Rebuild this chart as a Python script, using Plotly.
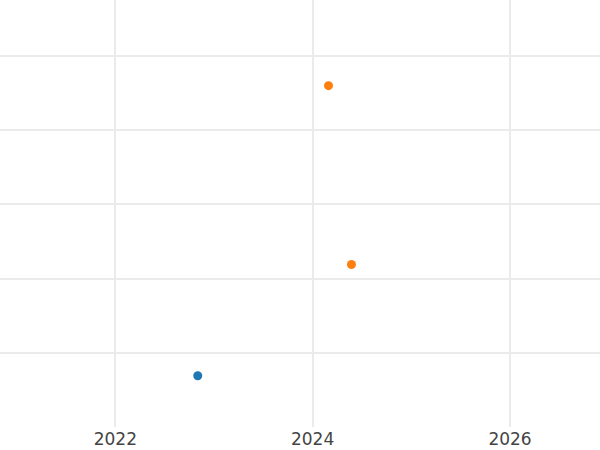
import plotly.graph_objects as go

series_a_dates = ["2022-11-02"]
series_a_values = [0.69]
series_b_dates = ["2024-02-29", "2024-05-24"]
series_b_values = [4.60, 2.19]

fig = go.Figure()
fig.add_trace(go.Scatter(x=series_a_dates, y=series_a_values, mode="markers",
                         marker=dict(color="#1f77b4", size=9), showlegend=False))
fig.add_trace(go.Scatter(x=series_b_dates, y=series_b_values, mode="markers",
                         marker=dict(color="#ff7f0e", size=9), showlegend=False))

fig.update_layout(
    width=600, height=450,
    margin=dict(l=0, r=0, t=0, b=23),
    paper_bgcolor="white", plot_bgcolor="white",
    font=dict(family="DejaVu Sans", size=17, color="#444"),
    xaxis=dict(type="date", range=["2020-10-31", "2026-11-30"],
               dtick="M24", tick0="2022-01-01", tickformat="%Y",
               showgrid=True, gridcolor="#ebebeb", gridwidth=1.5,
               zeroline=False, showline=False, ticks=""),
    yaxis=dict(range=[0, 5.754], dtick=1, showticklabels=False,
               showgrid=True, gridcolor="#ebebeb", gridwidth=1.5,
               zeroline=False, showline=False, ticks=""),
)
fig.write_html("out.html", config={"displayModeBar": False},
               post_script="document.body.style.margin='0';document.body.style.overflow='hidden';")
